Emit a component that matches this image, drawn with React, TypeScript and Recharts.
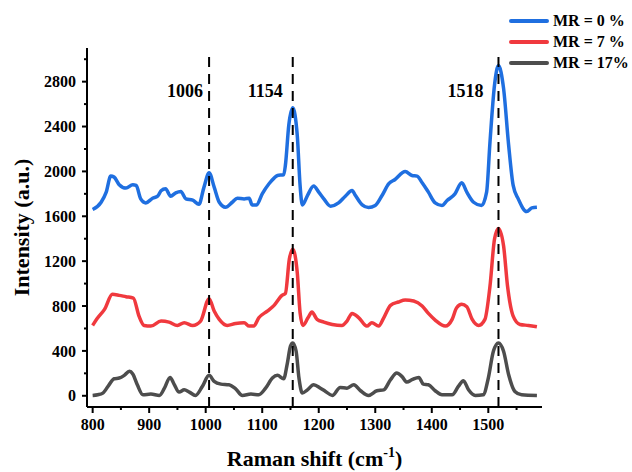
import React from 'react'
import { LineChart, Line, XAxis, YAxis, ReferenceLine, Legend } from 'recharts'

const FONT = '"Liberation Serif", "Times New Roman", serif'

// MR = 0 %
const mr0Shift = [800, 815, 824, 832, 838, 847, 859, 871, 877, 885, 894, 906, 915, 921, 929, 938, 947, 956, 965, 977, 988, 997, 1006, 1015, 1024, 1035, 1047, 1056, 1068, 1077, 1082, 1090, 1100, 1112, 1121, 1127, 1138, 1141, 1147, 1154, 1162, 1167, 1171, 1180, 1191, 1200, 1209, 1221, 1235, 1247, 1259, 1265, 1277, 1288, 1300, 1312, 1324, 1335, 1353, 1365, 1374, 1383, 1394, 1406, 1418, 1427, 1441, 1453, 1462, 1474, 1488, 1497, 1503, 1511, 1518, 1527, 1536, 1544, 1553, 1568, 1577, 1586]
const mr0Intensity = [1660, 1725, 1815, 1958, 1949, 1881, 1851, 1881, 1875, 1755, 1719, 1761, 1779, 1827, 1845, 1779, 1809, 1821, 1755, 1743, 1707, 1860, 1988, 1860, 1725, 1681, 1725, 1761, 1755, 1761, 1701, 1701, 1800, 1890, 1940, 1964, 1970, 2054, 2412, 2567, 2322, 1875, 1701, 1785, 1869, 1815, 1755, 1690, 1719, 1779, 1830, 1785, 1701, 1678, 1696, 1785, 1890, 1928, 1999, 1964, 1958, 1899, 1815, 1719, 1696, 1740, 1800, 1899, 1815, 1725, 1696, 1815, 2263, 2770, 2943, 2740, 2233, 1875, 1755, 1642, 1675, 1681]

// MR = 7 %
const mr7Shift = [800, 809, 821, 835, 847, 859, 872, 882, 891, 903, 921, 935, 950, 962, 977, 991, 1006, 1015, 1024, 1038, 1053, 1068, 1077, 1085, 1094, 1109, 1121, 1135, 1141, 1148, 1154, 1162, 1167, 1172, 1181, 1188, 1197, 1209, 1224, 1241, 1250, 1259, 1271, 1285, 1294, 1306, 1315, 1327, 1341, 1353, 1368, 1383, 1394, 1406, 1424, 1436, 1444, 1453, 1462, 1471, 1483, 1494, 1503, 1511, 1518, 1527, 1534, 1544, 1556, 1571, 1586]
const mr7Intensity = [627, 695, 770, 904, 895, 883, 871, 710, 627, 621, 666, 657, 627, 651, 627, 666, 866, 755, 681, 627, 645, 651, 621, 621, 695, 755, 806, 895, 913, 1218, 1307, 1098, 740, 627, 695, 746, 681, 657, 636, 627, 666, 734, 695, 621, 651, 621, 695, 806, 836, 854, 845, 800, 734, 675, 621, 681, 785, 815, 794, 686, 627, 681, 979, 1397, 1492, 1337, 979, 710, 636, 627, 615]

// MR = 17%
const mr17Shift = [800, 809, 818, 829, 838, 847, 856, 865, 871, 879, 889, 903, 918, 927, 937, 944, 953, 962, 971, 982, 994, 1006, 1015, 1027, 1041, 1053, 1065, 1080, 1094, 1106, 1118, 1127, 1138, 1144, 1150, 1154, 1160, 1165, 1171, 1180, 1191, 1203, 1212, 1224, 1238, 1250, 1262, 1274, 1288, 1303, 1315, 1327, 1338, 1347, 1356, 1365, 1377, 1385, 1394, 1406, 1418, 1436, 1447, 1456, 1465, 1477, 1491, 1500, 1509, 1518, 1527, 1536, 1547, 1559, 1586]
const mr17Intensity = [3, 9, 24, 98, 152, 158, 182, 218, 194, 98, 9, 15, 3, 68, 164, 104, 33, 53, 33, 3, 83, 182, 128, 104, 98, 62, 3, 15, 9, 68, 158, 182, 152, 277, 442, 471, 397, 158, 24, 53, 98, 68, 39, 3, 74, 68, 98, 45, 3, 45, 53, 143, 203, 173, 122, 143, 164, 104, 98, 45, 9, 9, 83, 134, 53, 3, 9, 158, 397, 471, 397, 188, 39, 9, 3]

const peakShifts = [1006, 1154, 1518]
const peakLabelGaps = [6, 10, 15]
const xMajorTicks = [800, 900, 1000, 1100, 1200, 1300, 1400, 1500]
const xAllTicks = [800, 850, 900, 950, 1000, 1050, 1100, 1150, 1200, 1250, 1300, 1350, 1400, 1450, 1500, 1550]
const yMajorTicks = [0, 400, 800, 1200, 1600, 2000, 2400, 2800]
const yAllTicks = [0, 200, 400, 600, 800, 1000, 1200, 1400, 1600, 1800, 2000, 2200, 2400, 2600, 2800, 3000]

const toPoints = (xs: number[], ys: number[]) => xs.map((x, i) => ({ x, y: ys[i] }))

const series = [
  { name: 'MR = 0 %', color: '#1f6fe0', data: toPoints(mr0Shift, mr0Intensity) },
  { name: 'MR = 7 %', color: '#f0393e', data: toPoints(mr7Shift, mr7Intensity) },
  { name: 'MR = 17%', color: '#4d4d4d', data: toPoints(mr17Shift, mr17Intensity) },
]

const X_TICK_SIZE = 6
const X_TICK_MARGIN = 6
const Y_TICK_SIZE = 5
const Y_TICK_MARGIN = 6

const XTick = (props: any) => {
  const { x, y, payload } = props
  const major = xMajorTicks.includes(payload.value)
  const axisY = y - X_TICK_SIZE - X_TICK_MARGIN
  return (
    <g>
      <line x1={x} x2={x} y1={axisY} y2={axisY + (major ? 6 : 3)} stroke="#000" strokeWidth={2} />
      {major && (
        <text x={x} y={y} dy="0.71em" textAnchor="middle" fontFamily={FONT} fontWeight="bold" fontSize={16} fill="#000">
          {payload.value}
        </text>
      )}
    </g>
  )
}

const YTick = (props: any) => {
  const { x, y, payload } = props
  const major = yMajorTicks.includes(payload.value)
  const axisX = x + Y_TICK_SIZE + Y_TICK_MARGIN
  return (
    <g>
      <line x1={axisX - (major ? 5 : 3)} x2={axisX} y1={y} y2={y} stroke="#000" strokeWidth={2} />
      {major && (
        <text x={x} y={y} dy="0.355em" textAnchor="end" fontFamily={FONT} fontWeight="bold" fontSize={16} fill="#000">
          {payload.value}
        </text>
      )}
    </g>
  )
}

const XTitle = (props: any) => {
  const { viewBox } = props
  return (
    <text x={viewBox.x + viewBox.width / 2} y={viewBox.y + viewBox.height - 6} textAnchor="middle" fontFamily={FONT} fontWeight="bold" fontSize={22} fill="#000">
      Raman shift (cm<tspan dy={-9} fontSize={14}>-1</tspan><tspan dy={9}>)</tspan>
    </text>
  )
}

const YTitle = (props: any) => {
  const { viewBox } = props
  const cx = viewBox.x + 21
  const cy = viewBox.y + viewBox.height / 2
  return (
    <text x={cx} y={cy} transform={`rotate(-90 ${cx} ${cy})`} textAnchor="middle" dominantBaseline="central" fontFamily={FONT} fontWeight="bold" fontSize={22} fill="#000">
      Intensity (a.u.)
    </text>
  )
}

const PeakLabel = (props: any) => {
  const { viewBox, text, gap } = props
  return (
    <text x={viewBox.x - gap} y={viewBox.y + 41} textAnchor="end" fontFamily={FONT} fontWeight="bold" fontSize={18} fill="#000">
      {text}
    </text>
  )
}

const renderLegend = () => (
  <div>
    {series.map((s) => (
      <div key={s.name} style={{ display: 'flex', alignItems: 'center', height: 21 }}>
        <span style={{ display: 'inline-block', width: 40, height: 4, borderRadius: 2, background: s.color, marginRight: 4 }} />
        <span style={{ fontFamily: FONT, fontWeight: 'bold', fontSize: 16, color: '#000', whiteSpace: 'nowrap' }}>{s.name}</span>
      </div>
    ))}
  </div>
)

export default function App() {
  return (
    <div style={{ position: 'absolute', left: 0, top: 0, width: 632, height: 472, background: '#fff' }}>
      <LineChart width={632} height={472} margin={{ top: 48, right: 90, left: 0, bottom: 0 }}>
        <XAxis
          dataKey="x"
          type="number"
          domain={[790, 1595]}
          ticks={xAllTicks}
          interval={0}
          height={65}
          tickSize={X_TICK_SIZE}
          tickMargin={X_TICK_MARGIN}
          tickLine={false}
          tick={<XTick />}
          axisLine={{ stroke: '#000', strokeWidth: 2 }}
          label={<XTitle />}
        />
        <YAxis
          type="number"
          domain={[-100, 3100]}
          ticks={yAllTicks}
          interval={0}
          width={87}
          tickSize={Y_TICK_SIZE}
          tickMargin={Y_TICK_MARGIN}
          tickLine={false}
          tick={<YTick />}
          axisLine={{ stroke: '#000', strokeWidth: 2 }}
          label={<YTitle />}
        />
        {series.map((s) => (
          <Line
            key={s.name}
            data={s.data}
            dataKey="y"
            name={s.name}
            type="monotone"
            stroke={s.color}
            strokeWidth={3.5}
            strokeLinejoin="round"
            dot={false}
            activeDot={false}
            isAnimationActive={false}
          />
        ))}
        {peakShifts.map((p, i) => (
          <ReferenceLine
            key={p}
            segment={[{ x: p, y: -100 }, { x: p, y: 3030 }]}
            stroke="#000"
            strokeWidth={2}
            strokeDasharray="10 7"
            label={<PeakLabel text={String(p)} gap={peakLabelGaps[i]} />}
          />
        ))}
        <Legend
          layout="vertical"
          align="center"
          verticalAlign="middle"
          content={renderLegend}
          wrapperStyle={{ top: 10, left: 509, width: 123 }}
        />
      </LineChart>
    </div>
  )
}
